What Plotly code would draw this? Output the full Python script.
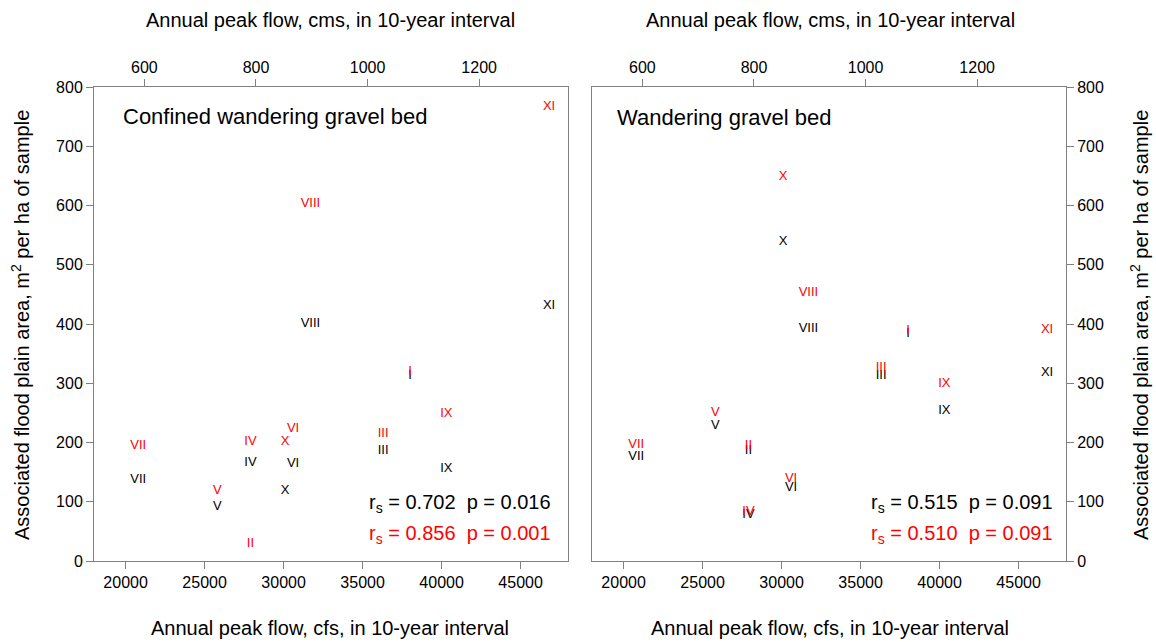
import plotly.graph_objects as go

# Decades (labels drawn at each point)
decades = ["I", "II", "III", "IV", "V", "VI", "VII", "VIII", "IX", "X", "XI"]

# Annual peak flow for each 10-year interval, cfs
peak_cfs = [38000, 27900, 36300, 27900, 25800, 30600, 20800, 31700, 40300, 30100, 46800]

# Associated flood plain area, m2 per ha of sample
confined_black = [313, None, 186, 165, 91, 164, 137, 400, 155, 118, 430]
confined_red = [320, 29, 214, 201, 118, 223, 194, 603, 248, 201, 766]
wandering_black = [383, 186, 312, 78, 228, 123, 176, 392, 253, 538, 317]
wandering_red = [388, 194, 327, 83, 251, 138, 197, 452, 300, 648, 390]

stats_confined = ["r<sub>s</sub> = 0.702  p = 0.016", "r<sub>s</sub> = 0.856  p = 0.001"]
stats_wandering = ["r<sub>s</sub> = 0.515  p = 0.091", "r<sub>s</sub> = 0.510  p = 0.091"]
panel_titles = ["Confined wandering gravel bed", "Wandering gravel bed"]

cfs_ticks = [20000, 25000, 30000, 35000, 40000, 45000]
cms_ticks = [600, 800, 1000, 1200]
y_ticks = [0, 100, 200, 300, 400, 500, 600, 700, 800]

CFS_PER_CMS = 35.3147
X_RANGE = [18000, 48000]
Y_RANGE = [0, 800]

FONT = "Liberation Sans, Arial, Helvetica, sans-serif"
FRAME = "#808080"
RED = "#ff0000"

W, H = 1156, 642
ML, MR, MT, MB = 94, 90, 87, 81
plot_w = W - ML - MR
dom_left = [0, (568 - ML) / plot_w]
dom_right = [(592 - ML) / plot_w, 1]

fig = go.Figure()


def add_labels(xaxis, yaxis, values, color):
    xs, ys, ts = [], [], []
    for d, x, y in zip(decades, peak_cfs, values):
        if y is None:
            continue
        xs.append(x)
        ys.append(y)
        ts.append(d)
    fig.add_trace(go.Scatter(
        x=xs, y=ys, text=ts, mode="text", xaxis=xaxis, yaxis=yaxis,
        textposition="middle center",
        textfont=dict(family=FONT, size=13, color=color),
        showlegend=False, hoverinfo="skip", cliponaxis=False,
    ))


add_labels("x", "y", confined_black, "black")
add_labels("x", "y", confined_red, RED)
add_labels("x2", "y2", wandering_black, "black")
add_labels("x2", "y2", wandering_red, RED)

# invisible traces so the cms (top) axes are attached to each panel
for xa, ya in (("x3", "y"), ("x4", "y2")):
    fig.add_trace(go.Scatter(
        x=[v / CFS_PER_CMS for v in peak_cfs], y=wandering_black, mode="markers",
        marker=dict(opacity=0), xaxis=xa, yaxis=ya,
        showlegend=False, hoverinfo="skip",
    ))

tickfont = dict(family=FONT, size=16, color="black")
common_x = dict(
    range=X_RANGE, tickvals=cfs_ticks, ticktext=[str(v) for v in cfs_ticks],
    ticks="outside", ticklen=7, tickcolor=FRAME, tickwidth=1,
    showline=True, linecolor=FRAME, linewidth=1, mirror=True,
    showgrid=False, zeroline=False, tickfont=tickfont, fixedrange=True,
)
common_top = dict(
    range=[X_RANGE[0] / CFS_PER_CMS, X_RANGE[1] / CFS_PER_CMS],
    tickvals=cms_ticks, ticktext=[str(v) for v in cms_ticks], side="top",
    ticks="outside", ticklen=7, tickcolor=FRAME, tickwidth=1,
    showline=False, showgrid=False, zeroline=False, tickfont=tickfont,
)
common_y = dict(
    range=Y_RANGE, tickvals=y_ticks, ticktext=[str(v) for v in y_ticks],
    ticks="outside", ticklen=7, tickcolor=FRAME, tickwidth=1,
    showline=True, linecolor=FRAME, linewidth=1, mirror=True,
    showgrid=False, zeroline=False, tickfont=tickfont,
)

fig.update_layout(
    width=W, height=H,
    margin=dict(l=ML, r=MR, t=MT, b=MB),
    paper_bgcolor="white", plot_bgcolor="white",
    font=dict(family=FONT, color="black"),
    xaxis=dict(domain=dom_left, anchor="y", **common_x),
    xaxis2=dict(domain=dom_right, anchor="y2", **common_x),
    xaxis3=dict(overlaying="x", anchor="y", **common_top),
    xaxis4=dict(overlaying="x2", anchor="y2", **common_top),
    yaxis=dict(domain=[0, 1], anchor="x", side="left", **common_y),
    yaxis2=dict(domain=[0, 1], anchor="x2", side="right", **common_y),
)


def px_x(px):
    return (px - ML) / plot_w


def px_y(py):
    return (H - MB - py) / (H - MT - MB)


ann = []
title_font = dict(family=FONT, size=20, color="black")
for cx in (330, 830):
    ann.append(dict(text="Annual peak flow, cfs, in 10-year interval", x=px_x(cx), y=px_y(628),
                    xref="paper", yref="paper", showarrow=False, font=title_font,
                    xanchor="center", yanchor="middle"))
    ann.append(dict(text="Annual peak flow, cms, in 10-year interval", x=px_x(cx), y=px_y(20),
                    xref="paper", yref="paper", showarrow=False, font=title_font,
                    xanchor="center", yanchor="middle"))
ytitle = "Associated flood plain area, m<sup>2</sup> per ha of sample"
for cx in (20, 1139):
    ann.append(dict(text=ytitle, x=px_x(cx), y=px_y(325), xref="paper", yref="paper",
                    showarrow=False, font=title_font, textangle=-90,
                    xanchor="center", yanchor="middle"))

# panel titles
ann.append(dict(text=panel_titles[0], x=px_x(121), y=px_y(116), xref="paper", yref="paper",
                showarrow=False, font=dict(family=FONT, size=22, color="black"),
                xanchor="left", yanchor="middle"))
ann.append(dict(text=panel_titles[1], x=px_x(615), y=px_y(118), xref="paper", yref="paper",
                showarrow=False, font=dict(family=FONT, size=22, color="black"),
                xanchor="left", yanchor="middle"))

# Spearman statistics
for stats, rx in ((stats_confined, 553), (stats_wandering, 1055)):
    for txt, cy, col in ((stats[0], 503, "black"), (stats[1], 534, RED)):
        ann.append(dict(text=txt.replace("  ", "&nbsp;&nbsp;"), x=px_x(rx), y=px_y(cy),
                        xref="paper", yref="paper", showarrow=False,
                        font=dict(family=FONT, size=20, color=col),
                        xanchor="right", yanchor="middle"))

fig.update_layout(annotations=ann)

fig.write_html("out.html")
